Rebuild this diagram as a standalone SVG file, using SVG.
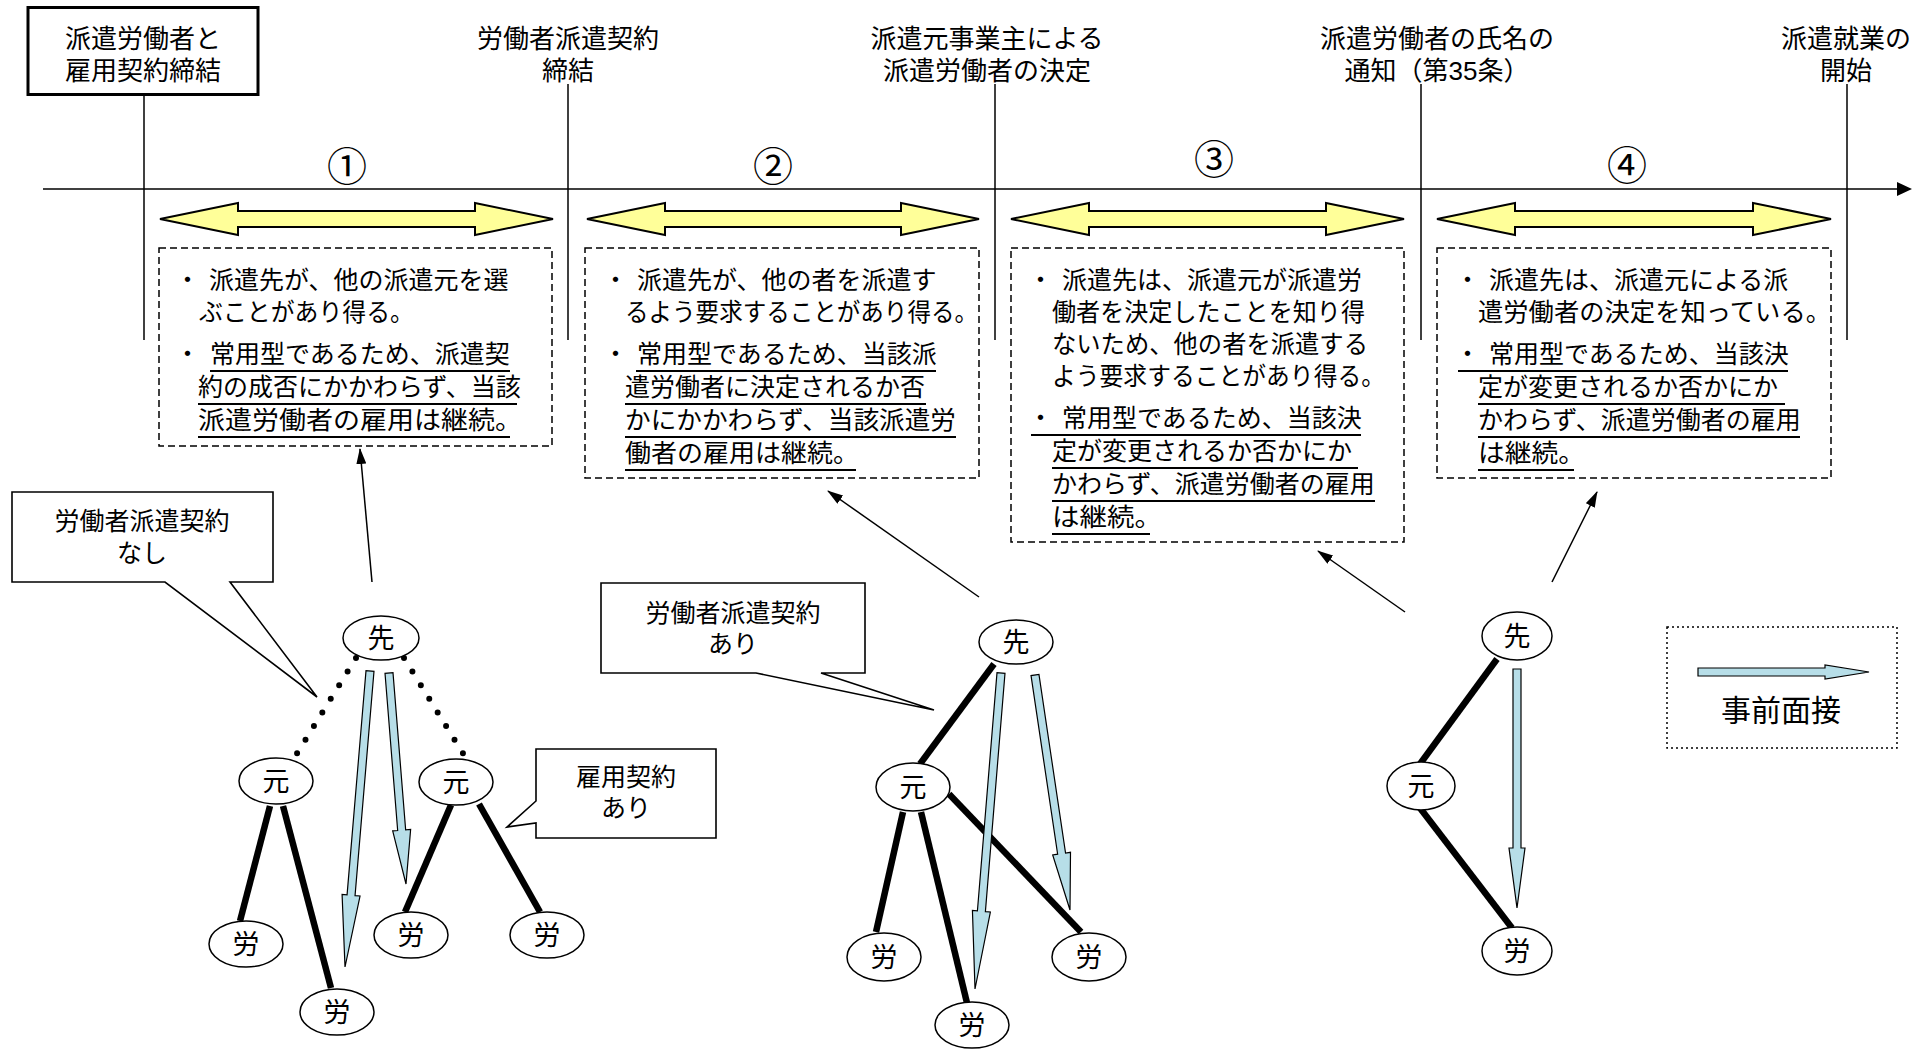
<svg xmlns="http://www.w3.org/2000/svg" width="1928" height="1049" viewBox="0 0 1928 1049">
<style>
text { font-family: "Liberation Sans", "Noto Sans CJK JP", sans-serif; fill: #000; }
.lbl { font-size: 26px; text-anchor: middle; }
.num { font-size: 40px; text-anchor: middle; font-family: "Noto Sans CJK JP", sans-serif; }
.body { font-size: 25px; }
.ctext { font-size: 25px; text-anchor: middle; }
.ntext { font-size: 27px; text-anchor: middle; }
.ell { fill: #fff; stroke: #000; stroke-width: 1.5; }
.thick { stroke: #000; stroke-width: 6.5; fill: none; }
.dots { stroke: #000; stroke-width: 6; stroke-linecap: round; stroke-dasharray: 0 16; fill: none; }
.blue { fill: #B7DEE8; stroke: #000; stroke-width: 1.2; }
.yel { fill: #FFFF99; stroke: #000; stroke-width: 2; }
.dash { fill: none; stroke: #000; stroke-width: 1.5; stroke-dasharray: 7 4; }
.ul { stroke: #000; stroke-width: 1.8; }
.call { fill: #fff; stroke: #000; stroke-width: 1.6; }
.ptr { stroke: #000; stroke-width: 1.5; fill: none; marker-end: url(#ah); }
.vline { stroke: #000; stroke-width: 1.5; }
</style>
<defs>
<marker id="ah" markerUnits="userSpaceOnUse" viewBox="0 0 16 10" refX="15" refY="5" markerWidth="16" markerHeight="10" orient="auto">
<path d="M0,0 L16,5 L0,10 Z" fill="#000"/>
</marker>
</defs>
<rect width="1928" height="1049" fill="#fff"/>

<g id="timeline">
<line x1="43" y1="189" x2="1899" y2="189" stroke="#000" stroke-width="1.5"/>
<polygon points="1897,182 1912,189 1897,196" fill="#000"/>
<line class="vline" x1="144" y1="95" x2="144" y2="340"/>
<line class="vline" x1="568" y1="84" x2="568" y2="340"/>
<line class="vline" x1="995" y1="84" x2="995" y2="340"/>
<line class="vline" x1="1421" y1="84" x2="1421" y2="340"/>
<line class="vline" x1="1847" y1="84" x2="1847" y2="340"/>
</g>

<g id="milestone-start">
<rect x="28" y="7.5" width="230" height="87" fill="#fff" stroke="#000" stroke-width="3"/>
<text class="lbl"><tspan x="143" y="48">派遣労働者と</tspan><tspan x="143" y="80">雇用契約締結</tspan></text>
</g>
<g id="milestone-contract">
<text class="lbl"><tspan x="568" y="48">労働者派遣契約</tspan><tspan x="568" y="80">締結</tspan></text>
</g>
<g id="milestone-decision">
<text class="lbl"><tspan x="987" y="48">派遣元事業主による</tspan><tspan x="987" y="80">派遣労働者の決定</tspan></text>
</g>
<g id="milestone-notice">
<text class="lbl"><tspan x="1437" y="48">派遣労働者の氏名の</tspan><tspan x="1437" y="80">通知（第35条）</tspan></text>
</g>
<g id="milestone-begin">
<text class="lbl"><tspan x="1846" y="48">派遣就業の</tspan><tspan x="1846" y="80">開始</tspan></text>
</g>

<g id="periods">
<text class="num" x="347" y="181">①</text>
<text class="num" x="773" y="181">②</text>
<text class="num" x="1214" y="174">③</text>
<text class="num" x="1627" y="180">④</text>
<polygon class="yel" points="160,219 238,203 238,211 475,211 475,203 553,219 475,235 475,227 238,227 238,235"/>
<polygon class="yel" points="587,219 665,203 665,211 901,211 901,203 979,219 901,235 901,227 665,227 665,235"/>
<polygon class="yel" points="1011,219 1089,203 1089,211 1326,211 1326,203 1404,219 1326,235 1326,227 1089,227 1089,235"/>
<polygon class="yel" points="1437,219 1515,203 1515,211 1753,211 1753,203 1831,219 1753,235 1753,227 1515,227 1515,235"/>
</g>

<g id="note1">
<rect class="dash" x="159" y="248" width="393" height="198"/>
<text class="body"><tspan x="175" y="289">・</tspan><tspan x="209" y="289">派遣先が、他の派遣元を選</tspan><tspan x="199" y="321" textLength="215" lengthAdjust="spacingAndGlyphs">ぶことがあり得る。</tspan><tspan x="175" y="363">・</tspan><tspan x="210" y="363">常用型であるため、派遣契</tspan><tspan x="198" y="396">約の成否にかかわらず、当該</tspan><tspan x="198" y="429" textLength="324" lengthAdjust="spacingAndGlyphs">派遣労働者の雇用は継続。</tspan></text>
<line class="ul" x1="210" y1="371" x2="510" y2="371"/>
<line class="ul" x1="198" y1="404" x2="517" y2="404"/>
<line class="ul" x1="198" y1="437" x2="510" y2="437"/>
</g>

<g id="note2">
<rect class="dash" x="585" y="248" width="394" height="230"/>
<text class="body"><tspan x="603" y="289">・</tspan><tspan x="637" y="289">派遣先が、他の者を派遣す</tspan><tspan x="625" y="321" textLength="353" lengthAdjust="spacingAndGlyphs">るよう要求することがあり得る。</tspan><tspan x="603" y="363">・</tspan><tspan x="637" y="363">常用型であるため、当該派</tspan><tspan x="625" y="396">遣労働者に決定されるか否</tspan><tspan x="625" y="429" textLength="331" lengthAdjust="spacingAndGlyphs">かにかかわらず、当該派遣労</tspan><tspan x="625" y="462" textLength="234" lengthAdjust="spacingAndGlyphs">働者の雇用は継続。</tspan></text>
<line class="ul" x1="636" y1="371" x2="936" y2="371"/>
<line class="ul" x1="625" y1="404" x2="926" y2="404"/>
<line class="ul" x1="625" y1="437" x2="956" y2="437"/>
<line class="ul" x1="625" y1="470" x2="856" y2="470"/>
</g>

<g id="note3">
<rect class="dash" x="1011" y="248" width="393" height="294"/>
<text class="body"><tspan x="1028" y="289">・</tspan><tspan x="1062" y="289">派遣先は、派遣元が派遣労</tspan><tspan x="1052" y="321" textLength="313" lengthAdjust="spacingAndGlyphs">働者を決定したことを知り得</tspan><tspan x="1052" y="353" textLength="316" lengthAdjust="spacingAndGlyphs">ないため、他の者を派遣する</tspan><tspan x="1052" y="385" textLength="333" lengthAdjust="spacingAndGlyphs">よう要求することがあり得る。</tspan><tspan x="1028" y="427">・</tspan><tspan x="1062" y="427">常用型であるため、当該決</tspan><tspan x="1052" y="460">定が変更されるか否かにか</tspan><tspan x="1052" y="493">かわらず、派遣労働者の雇用</tspan><tspan x="1052" y="526" textLength="110" lengthAdjust="spacingAndGlyphs">は継続。</tspan></text>
<line class="ul" x1="1031" y1="435" x2="1361" y2="435"/>
<line class="ul" x1="1052" y1="468" x2="1358" y2="468"/>
<line class="ul" x1="1052" y1="501" x2="1375" y2="501"/>
<line class="ul" x1="1052" y1="534" x2="1150" y2="534"/>
</g>

<g id="note4">
<rect class="dash" x="1437" y="248" width="394" height="230"/>
<text class="body"><tspan x="1455" y="289">・</tspan><tspan x="1489" y="289">派遣先は、派遣元による派</tspan><tspan x="1478" y="321" textLength="353" lengthAdjust="spacingAndGlyphs">遣労働者の決定を知っている。</tspan><tspan x="1455" y="363">・</tspan><tspan x="1489" y="363">常用型であるため、当該決</tspan><tspan x="1478" y="396">定が変更されるか否かにか</tspan><tspan x="1478" y="429">かわらず、派遣労働者の雇用</tspan><tspan x="1478" y="462" textLength="107" lengthAdjust="spacingAndGlyphs">は継続。</tspan></text>
<line class="ul" x1="1458" y1="371" x2="1788" y2="371"/>
<line class="ul" x1="1478" y1="404" x2="1785" y2="404"/>
<line class="ul" x1="1478" y1="437" x2="1800" y2="437"/>
<line class="ul" x1="1478" y1="470" x2="1574" y2="470"/>
</g>

<g id="callout-no-contract">
<path class="call" d="M12,492 H273 V582 H230 L317,697 L165,582 H12 Z"/>
<text class="ctext"><tspan x="142" y="530">労働者派遣契約</tspan><tspan x="142" y="562">なし</tspan></text>
</g>
<g id="callout-employment">
<path class="call" d="M536,749 H716 V838 H536 V823 L507,827 L536,801 Z"/>
<text class="ctext"><tspan x="626" y="786">雇用契約</tspan><tspan x="626" y="817">あり</tspan></text>
</g>
<g id="callout-contract">
<path class="call" d="M601,583 H865 V673 H821 L934,710 L756,673 H601 Z"/>
<text class="ctext"><tspan x="733" y="622">労働者派遣契約</tspan><tspan x="733" y="653">あり</tspan></text>
</g>

<g id="connectors">
<line class="ptr" x1="372" y1="582" x2="360" y2="449"/>
<line class="ptr" x1="979" y1="597" x2="828" y2="491"/>
<line class="ptr" x1="1405" y1="612" x2="1318" y2="551"/>
<line class="ptr" x1="1552" y1="582" x2="1597" y2="492"/>
<line class="dots" x1="356" y1="658" x2="296" y2="755"/>
<line class="dots" x1="404" y1="658" x2="464" y2="755"/>
<line class="thick" x1="270" y1="806" x2="240" y2="921"/>
<line class="thick" x1="283" y1="806" x2="331" y2="988"/>
<line class="thick" x1="451" y1="805" x2="405" y2="912"/>
<line class="thick" x1="479" y1="804" x2="540" y2="912"/>
<line class="thick" x1="994" y1="664" x2="920" y2="764"/>
<line class="thick" x1="903" y1="812" x2="876" y2="932"/>
<line class="thick" x1="921" y1="812" x2="967" y2="1003"/>
<line class="thick" x1="949" y1="794" x2="1081" y2="932"/>
<line class="thick" x1="1497" y1="659" x2="1420" y2="764"/>
<line class="thick" x1="1420" y1="808" x2="1512" y2="928"/>
<polygon class="blue" points="366.01,670.66 347.07,894.91 342.09,894.49 345,967 360.03,896.01 355.05,895.59 373.99,671.34"/>
<polygon class="blue" points="385.01,673.32 397.67,830.49 392.69,830.89 406,884 410.63,829.45 405.65,829.85 392.99,672.68"/>
<polygon class="blue" points="997.01,672.67 977.41,910.93 972.43,910.52 975,989 990.37,912 985.39,911.59 1004.99,673.33"/>
<polygon class="blue" points="1031.04,675.59 1057.64,854.21 1052.7,854.95 1070,910 1070.5,852.29 1065.56,853.03 1038.96,674.41"/>
<polygon class="blue" points="1513,669 1513,848 1509,848 1517,908 1525,848 1521,848 1521,669"/>
</g>

<g id="node-g1-saki"><ellipse class="ell" cx="381" cy="638" rx="38" ry="22"/><text class="ntext" x="381" y="648">先</text></g>
<g id="node-g1-moto1"><ellipse class="ell" cx="276" cy="781" rx="37" ry="23"/><text class="ntext" x="276" y="791">元</text></g>
<g id="node-g1-moto2"><ellipse class="ell" cx="456" cy="782" rx="37" ry="23"/><text class="ntext" x="456" y="792">元</text></g>
<g id="node-g1-rou1"><ellipse class="ell" cx="246" cy="944" rx="37" ry="23"/><text class="ntext" x="246" y="954">労</text></g>
<g id="node-g1-rou2"><ellipse class="ell" cx="337" cy="1012" rx="37" ry="23"/><text class="ntext" x="337" y="1022">労</text></g>
<g id="node-g1-rou3"><ellipse class="ell" cx="411" cy="935" rx="37" ry="23"/><text class="ntext" x="411" y="945">労</text></g>
<g id="node-g1-rou4"><ellipse class="ell" cx="547" cy="935" rx="37" ry="23"/><text class="ntext" x="547" y="945">労</text></g>

<g id="node-g2-saki"><ellipse class="ell" cx="1016" cy="642" rx="37" ry="22"/><text class="ntext" x="1016" y="652">先</text></g>
<g id="node-g2-moto"><ellipse class="ell" cx="913" cy="787" rx="37" ry="24"/><text class="ntext" x="913" y="797">元</text></g>
<g id="node-g2-rou1"><ellipse class="ell" cx="884" cy="957" rx="37" ry="24"/><text class="ntext" x="884" y="967">労</text></g>
<g id="node-g2-rou2"><ellipse class="ell" cx="972" cy="1025" rx="37" ry="23"/><text class="ntext" x="972" y="1035">労</text></g>
<g id="node-g2-rou3"><ellipse class="ell" cx="1089" cy="957" rx="37" ry="24"/><text class="ntext" x="1089" y="967">労</text></g>

<g id="node-g3-saki"><ellipse class="ell" cx="1517" cy="636" rx="35" ry="24"/><text class="ntext" x="1517" y="646">先</text></g>
<g id="node-g3-moto"><ellipse class="ell" cx="1421" cy="786" rx="34" ry="24"/><text class="ntext" x="1421" y="796">元</text></g>
<g id="node-g3-rou"><ellipse class="ell" cx="1517" cy="951" rx="35" ry="24"/><text class="ntext" x="1517" y="961">労</text></g>

<g id="legend">
<rect x="1667" y="627" width="230" height="121" fill="none" stroke="#000" stroke-width="1.5" stroke-dasharray="2 3"/>
<polygon class="blue" points="1698,668 1825,668 1825,665 1869,672 1825,679 1825,676 1698,676"/>
<text x="1781" y="721" font-size="30" text-anchor="middle">事前面接</text>
</g>
</svg>
